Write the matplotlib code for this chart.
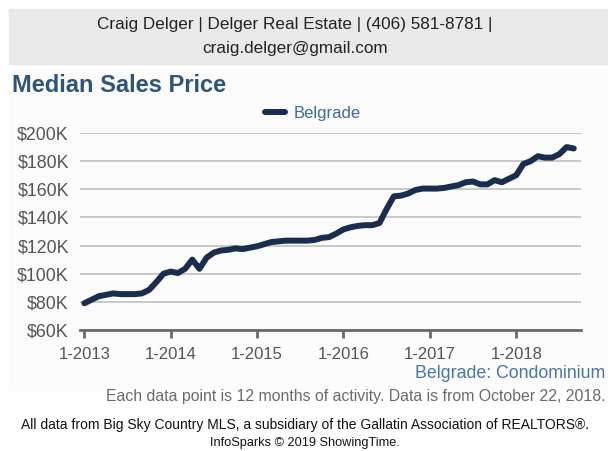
import matplotlib.pyplot as plt
from matplotlib.patches import Rectangle
import numpy as np

plt.rcParams['font.family'] = ['Liberation Sans', 'DejaVu Sans']

# Median sales price, Belgrade condominiums, monthly 1-2013 .. 9-2018 (in $K)
prices = [79, 81.5, 84, 85, 86, 85.5, 85.5, 85.5, 86, 88.5,
          94, 100, 101.5, 100.5, 103.5, 110, 103.5, 111.5, 115, 116.5,
          117, 118, 117.5, 118.5, 119.5, 121, 122.5, 123, 123.5, 123.5,
          123.5, 123.5, 124, 125.5, 126, 128.5, 131.5, 133, 134, 134.5,
          134.5, 136, 146, 155, 155.5, 157, 159.5, 160.5, 160.5, 160.5,
          161, 162, 163, 165, 165.5, 163.5, 163.5, 166.5, 165, 167.5,
          170, 178, 180, 183.5, 182.5, 182.5, 185, 190, 189]
year_labels = ['1-2013', '1-2014', '1-2015', '1-2016', '1-2017', '1-2018']
y_ticks = [60, 80, 100, 120, 140, 160, 180, 200]

W, H = 608, 451
fig = plt.figure(figsize=(W / 100, H / 100), dpi=100)

# Header band
fig.patches.append(Rectangle((9 / W, 1 - 64 / H), (W - 9) / W, 55 / H,
                             transform=fig.transFigure, color='#e9e9e9', zorder=-2))
# faint chart panel
fig.patches.append(Rectangle((9 / W, 1 - 390 / H), (W - 9) / W, 320 / H,
                             transform=fig.transFigure, color='#fbfbfb', zorder=-2))

fig.text(0.485, 1 - 25 / H, 'Craig Delger | Delger Real Estate | (406) 581-8781 |',
         ha='center', va='center', fontsize=12.3, color='#222222')
fig.text(0.485, 1 - 49 / H, 'craig.delger@gmail.com',
         ha='center', va='center', fontsize=12.3, color='#222222')
fig.text(12 / W, 1 - 86 / H, 'Median Sales Price', ha='left', va='center',
         fontsize=17, fontweight='bold', color='#2e5478')

ax = fig.add_axes([80 / W, 1 - 330 / H, (581 - 80) / W, (330 - 133) / H])
ax.set_zorder(2)
ax.set_facecolor('none')
x = np.arange(len(prices))
ax.plot(x, prices, color='#1b2d4f', linewidth=4.3, solid_capstyle='round',
        solid_joinstyle='round', label='Belgrade', zorder=3)

ax.set_ylim(60, 200)
ax.set_xlim(-0.6, 69)
ax.set_yticks(y_ticks)
ax.set_yticklabels([f'${v}K' for v in y_ticks])
ax.set_xticks(np.arange(len(year_labels)) * 12)
ax.set_xticklabels(year_labels)
ax.grid(axis='y', color='#c9c9c9', linewidth=1.4)
ax.set_axisbelow(True)
for s in ['left', 'right', 'top']:
    ax.spines[s].set_visible(False)
ax.spines['bottom'].set_color('#6a6a6a')
ax.spines['bottom'].set_linewidth(2)
ax.tick_params(axis='x', colors='#6a6a6a', width=2, length=6, direction='out',
               labelsize=12, labelcolor='#555555', pad=6)
ax.tick_params(axis='y', length=0, labelsize=12.8, labelcolor='#555555', pad=8)

leg = ax.legend(loc='lower center', bbox_to_anchor=(0.465, 1.0), frameon=False,
                fontsize=12, handlelength=1.2, handletextpad=0.5, borderaxespad=0.3)
for t in leg.get_texts():
    t.set_color('#3d6a9a')

fig.text(415 / W, 1 - 373 / H, 'Belgrade: Condominium', ha='left', va='center',
         fontsize=12.8, color='#4775a6')
fig.text(605 / W, 1 - 396 / H,
         'Each data point is 12 months of activity. Data is from October 22, 2018.',
         ha='right', va='center', fontsize=11.4, color='#6a6a6a')
fig.text(305 / W, 1 - 425 / H,
         'All data from Big Sky Country MLS, a subsidiary of the Gallatin Association of REALTORS\u00ae.',
         ha='center', va='center', fontsize=10, color='#111111')
fig.text(305 / W, 1 - 443 / H, 'InfoSparks \u00a9 2019 ShowingTime.',
         ha='center', va='center', fontsize=9.2, color='#111111')

fig.savefig('out.png', dpi=100)
